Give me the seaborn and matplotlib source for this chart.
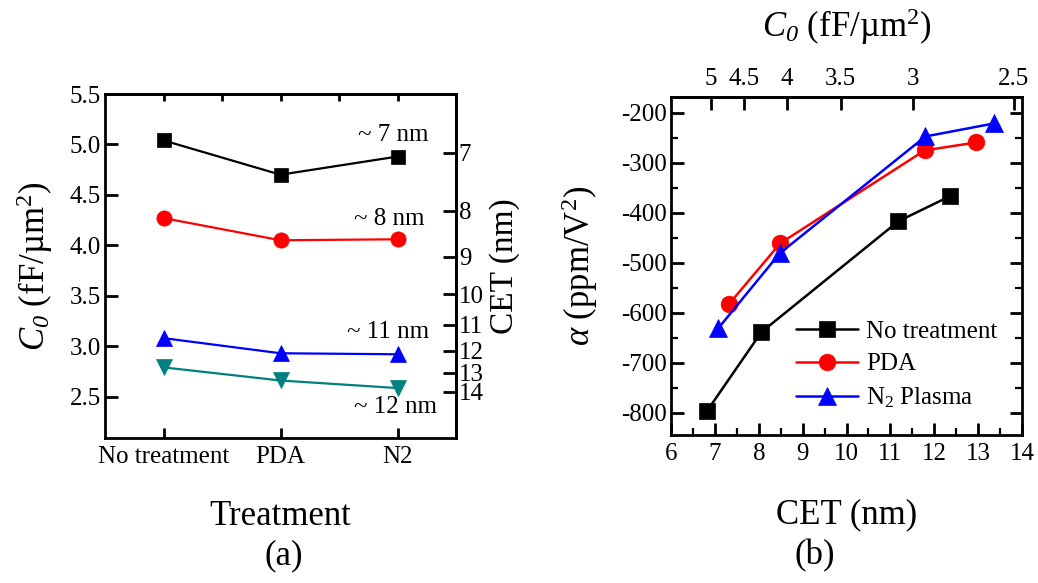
import numpy as np
import pandas as pd
import matplotlib
matplotlib.use("Agg")
import matplotlib.pyplot as plt
import seaborn as sns
from matplotlib.ticker import MultipleLocator, FixedLocator, FormatStrFormatter

# ---------------- data: panel (a) ----------------
treatments = ["No treatment", "PDA", "N2"]
c0_7nm = [5.04, 4.70, 4.88]
c0_8nm = [4.27, 4.05, 4.06]
c0_11nm = [3.08, 2.93, 2.92]
c0_12nm = [2.79, 2.66, 2.585]
thickness_labels = ["~ 7 nm", "~ 8 nm", "~ 11 nm", "~ 12 nm"]
cet_ticks_a = [7, 8, 9, 10, 11, 12, 13, 14]

# ---------------- data: panel (b) ----------------
cet_none = [6.82, 8.06, 11.18, 12.35]
alpha_none = [-797, -639, -417, -367]
cet_pda = [7.32, 8.49, 11.78, 12.96]
alpha_pda = [-583, -461, -275, -259]
cet_n2 = [7.08, 8.48, 11.80, 13.36]
alpha_n2 = [-631, -481, -247, -221]
series_names = ["No treatment", "PDA", "N$_2$ Plasma"]
c0_ticks_b = [5, 4.5, 4, 3.5, 3, 2.5]

# ---------------- style ----------------
sns.set_theme(style="ticks")
plt.rcParams.update({
    "font.family": ["Liberation Serif", "DejaVu Serif"],
    "mathtext.fontset": "custom",
    "mathtext.rm": "Liberation Serif",
    "mathtext.it": "Liberation Serif:italic",
    "mathtext.sf": "Liberation Serif:italic",
    "mathtext.bf": "Liberation Serif:bold",
    "axes.unicode_minus": False,
    "axes.linewidth": 2.0,
    "xtick.direction": "in",
    "ytick.direction": "in",
    "xtick.major.width": 2.0,
    "ytick.major.width": 2.0,
    "xtick.minor.width": 1.6,
    "ytick.minor.width": 1.6,
    "xtick.major.size": 9,
    "ytick.major.size": 9,
    "xtick.minor.size": 5,
    "ytick.minor.size": 5,
    "xtick.labelsize": 18,
    "ytick.labelsize": 18,
    "xtick.color": "black",
    "ytick.color": "black",
    "axes.edgecolor": "black",
    "text.color": "black",
    "axes.labelcolor": "black",
})

C0_LABEL = r"$C_{\mathsf{0}}$ (fF/µm$^2$)"

fig = plt.figure(figsize=(10.38, 5.83), dpi=100)

# ================= panel (a) =================
ax1 = fig.add_axes([105 / 1038, 1 - 438 / 583, 351 / 1038, 344 / 583])
series_a = [c0_7nm, c0_8nm, c0_11nm, c0_12nm]
colors_a = ["black", "#ff0000", "#0000ff", "#008080"]
markers_a = ["s", "o", "^", "v"]
msizes_a = [10, 11, 12, 12]
for vals, col, mk, ms in zip(series_a, colors_a, markers_a, msizes_a):
    sns.pointplot(x=treatments, y=vals, color=col, markers=mk, linestyles="-",
                  markersize=ms, linewidth=1.6, markeredgewidth=0.5,
                  errorbar=None, ax=ax1)

ax1.set_xlim(-0.5, 2.5)
ax1.set_ylim(2.09, 5.5)
ax1.yaxis.set_major_locator(MultipleLocator(0.5))
ax1.yaxis.set_major_formatter(FormatStrFormatter("%.1f"))
ax1.tick_params(axis="x", which="major", length=7, pad=6, top=False, bottom=True)
ax1.tick_params(axis="y", which="major", length=9.5, pad=3, left=True, right=False)
ax1.set_xlabel("Treatment", fontsize=25)
ax1.xaxis.set_label_coords(0.5, -0.18)
ax1.set_ylabel(C0_LABEL, fontsize=25)
ax1.yaxis.set_label_coords(-0.142, 0.5)

text_pos = [(1.96, 5.09), (1.93, 4.26), (1.92, 3.14), (1.98, 2.40)]
for lab, (tx, ty) in zip(thickness_labels, text_pos):
    ax1.text(tx, ty, lab, fontsize=18, ha="center", va="center")

# top ticks (no labels)
top_a = ax1.secondary_xaxis("top")
top_a.set_xticks([0, 0.5, 1, 1.5, 2])
top_a.set_xticklabels([])
top_a.tick_params(axis="x", length=5, width=2, direction="in")

# right CET axis
A_CET, B_CET = 37.07, 0.54


def c_to_cet(c):
    c = np.asarray(c, dtype=float)
    with np.errstate(divide="ignore", invalid="ignore"):
        return A_CET / c - B_CET


def cet_to_c(t):
    t = np.asarray(t, dtype=float)
    with np.errstate(divide="ignore", invalid="ignore"):
        return A_CET / (t + B_CET)


right_a = ax1.secondary_yaxis("right", functions=(c_to_cet, cet_to_c))
right_a.yaxis.set_major_locator(FixedLocator(cet_ticks_a))
right_a.yaxis.set_major_formatter(FormatStrFormatter("%d"))
right_a.tick_params(axis="y", length=9.5, width=2, direction="in", pad=2)
right_a.set_ylabel("CET (nm)", fontsize=24, labelpad=4)

# ================= panel (b) =================
ax2 = fig.add_axes([671 / 1038, 1 - 435 / 583, 351 / 1038, 338 / 583])
series_b = [(cet_none, alpha_none), (cet_pda, alpha_pda), (cet_n2, alpha_n2)]
colors_b = ["black", "#ff0000", "#0000ff"]
markers_b = ["s", "o", "^"]
msizes_b = [11, 12, 13]
for (xs, ys), col, mk, ms, name in zip(series_b, colors_b, markers_b, msizes_b, series_names):
    sns.lineplot(x=xs, y=ys, color=col, marker=mk, markersize=ms, linewidth=1.8,
                 markeredgewidth=0.5, markeredgecolor=col, sort=False,
                 label=name, ax=ax2)

ax2.set_xlim(6, 14)
ax2.set_ylim(-845, -168)
ax2.xaxis.set_major_locator(MultipleLocator(1))
ax2.xaxis.set_minor_locator(MultipleLocator(0.5))
ax2.yaxis.set_major_locator(MultipleLocator(100))
ax2.yaxis.set_minor_locator(MultipleLocator(50))
ax2.tick_params(axis="both", which="both", left=True, right=True, bottom=True, top=False)
ax2.tick_params(axis="x", which="major", pad=6)
ax2.tick_params(axis="y", which="major", pad=3)
ax2.set_xlabel("CET (nm)", fontsize=25)
ax2.xaxis.set_label_coords(0.5, -0.187)
ax2.set_ylabel(r"$\alpha$ (ppm/V$^2$)", fontsize=25)
ax2.yaxis.set_label_coords(-0.202, 0.5)

K_C0 = 34.53


def cet_to_c0(t):
    t = np.asarray(t, dtype=float)
    with np.errstate(divide="ignore", invalid="ignore"):
        return K_C0 / t


top_b = ax2.secondary_xaxis("top", functions=(cet_to_c0, cet_to_c0))
top_b.xaxis.set_major_locator(FixedLocator(c0_ticks_b))
top_b.xaxis.set_major_formatter(FormatStrFormatter("%g"))
top_b.tick_params(axis="x", length=9, width=2, direction="in", pad=5)
top_b.set_xlabel(C0_LABEL, fontsize=25, labelpad=22)

leg = ax2.legend(loc="lower right", frameon=False, fontsize=18, handlelength=2.5,
                 handletextpad=0.3, labelspacing=0.4, borderaxespad=0.6)

fig.text(284 / 1038, 1 - 556 / 583, "(a)", fontsize=25, ha="center", va="center")
fig.text(815 / 1038, 1 - 556 / 583, "(b)", fontsize=25, ha="center", va="center")

fig.savefig("out.png", dpi=100)
